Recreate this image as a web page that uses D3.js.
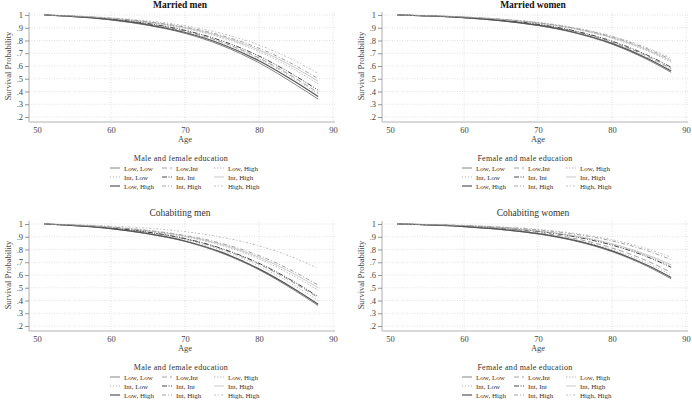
<!DOCTYPE html>
<html>
<head>
<meta charset="utf-8">
<script src="https://cdn.jsdelivr.net/npm/d3@7"></script>
<style>
  body { margin: 0; background: #fff; }
  svg { font-family: "Liberation Serif", "DejaVu Serif", serif; }
</style>
</head>
<body>
<svg id="chart" width="692" height="400"></svg>
<script>
const ages = [51, 60, 65, 70, 75, 80, 85, 88];

const seriesNames = ["Low, Low", "Low,Int", "Low, High", "Int, Low", "Int, Int", "Int, High", "Low, High", "Int, High", "High, High"];

const xTicks = [50, 60, 70, 80, 90];
const yTicks = [1, .9, .8, .7, .6, .5, .4, .3, .2];
const yTickLabels = ["1", ".9", ".8", ".7", ".6", ".5", ".4", ".3", ".2"];

const panelTitles = ["Married men", "Married women", "Cohabiting men", "Cohabiting women"];
const legendTitles = ["Male and female education", "Female and male education", "Male and female education", "Female and male education"];

// survival probability per series, one row per legend entry
const marriedMen = [
  [1, .961, .919, .856, .760, .625, .452, .34],
  [1, .966, .929, .873, .787, .663, .501, .39],
  [1, .972, .941, .894, .821, .713, .565, .46],
  [1, .965, .927, .870, .782, .656, .491, .38],
  [1, .968, .933, .880, .797, .678, .519, .41],
  [1, .973, .944, .900, .830, .726, .583, .48],
  [1, .963, .923, .863, .771, .641, .472, .36],
  [1, .975, .947, .905, .839, .739, .601, .50],
  [1, .977, .953, .915, .855, .764, .636, .54]
];
const marriedWomen = [
  [1, .978, .954, .917, .859, .771, .644, .55],
  [1, .980, .958, .925, .871, .789, .670, .58],
  [1, .983, .965, .936, .889, .818, .712, .63],
  [1, .979, .957, .922, .867, .783, .662, .57],
  [1, .981, .960, .927, .875, .795, .679, .59],
  [1, .984, .966, .938, .893, .823, .720, .64],
  [1, .979, .956, .920, .863, .777, .653, .56],
  [1, .984, .967, .940, .896, .829, .729, .65],
  [1, .985, .968, .942, .900, .834, .737, .66]
];
const cohabMen = [
  [1, .963, .923, .863, .771, .641, .472, .36],
  [1, .968, .935, .883, .802, .685, .529, .42],
  [1, .973, .944, .900, .830, .726, .583, .48],
  [1, .967, .931, .876, .792, .671, .510, .40],
  [1, .969, .936, .886, .807, .692, .538, .43],
  [1, .975, .947, .905, .839, .739, .601, .50],
  [1, .964, .925, .867, .777, .648, .482, .37],
  [1, .976, .950, .910, .847, .752, .618, .52],
  [1, .984, .967, .940, .896, .829, .729, .65]
];
const cohabWomen = [
  [1, .979, .957, .922, .867, .783, .662, .57],
  [1, .982, .963, .934, .886, .812, .704, .62],
  [1, .985, .969, .944, .903, .840, .745, .67],
  [1, .981, .961, .929, .878, .800, .687, .60],
  [1, .985, .968, .942, .900, .834, .737, .66],
  [1, .986, .970, .946, .907, .845, .753, .68],
  [1, .980, .958, .925, .871, .789, .670, .58],
  [1, .988, .975, .954, .920, .867, .786, .72],
  [1, .989, .977, .958, .926, .877, .801, .74]
];
const panelData = [marriedMen, marriedWomen, cohabMen, cohabWomen];

// look of each series (grey scale, Stata style patterns)
const lineStyles = [
  { color: "#777", width: 0.9, dash: null },
  { color: "#8a8a8a", width: 0.8, dash: "5,3" },
  { color: "#aaa", width: 0.8, dash: "1.5,1.5" },
  { color: "#999", width: 0.8, dash: "1,2" },
  { color: "#333", width: 0.9, dash: "5,1.5,1,1.5,1,1.5" },
  { color: "#bbb", width: 0.8, dash: null },
  { color: "#555", width: 1.2, dash: null },
  { color: "#8a8a8a", width: 0.8, dash: "4,2,1,2" },
  { color: "#aaa", width: 0.8, dash: "2,2,1,2" }
];

const panelPos = [[0, 0], [353, 0], [0, 209], [353, 209]];
const legendX = [110, 462, 110, 462];
const legendTitleX = [181, 525, 181, 525];

const svg = d3.select("#chart");

const x = d3.scaleLinear().domain([50, 90]).range([37, 333]);
const y = d3.scaleLinear().domain([0.2, 1]).range([117, 15]);

const line = d3.line()
  .x((d, i) => x(ages[i]))
  .y(d => y(d))
  .curve(d3.curveMonotoneX);

panelData.forEach((data, p) => {
  const g = svg.append("g").attr("transform", `translate(${panelPos[p][0]},${panelPos[p][1]})`);

  // gridlines
  g.selectAll(".hgrid").data(yTicks).join("line")
    .attr("x1", 29).attr("x2", 335)
    .attr("y1", d => y(d)).attr("y2", d => y(d))
    .attr("stroke", "#d4d4d4").attr("stroke-width", 0.7).attr("stroke-dasharray", "1,1.5");
  g.selectAll(".vgrid").data(xTicks.slice(1)).join("line")
    .attr("x1", d => x(d)).attr("x2", d => x(d))
    .attr("y1", 12).attr("y2", 122)
    .attr("stroke", "#d4d4d4").attr("stroke-width", 0.7).attr("stroke-dasharray", "1,1.5");

  // y axis
  const yAxis = g.append("g").attr("transform", "translate(29,0)")
    .call(d3.axisLeft(y).tickValues(yTicks).tickSize(4).tickPadding(2)
      .tickFormat((d, i) => yTickLabels[i]));
  yAxis.select(".domain").remove();
  yAxis.selectAll("line").attr("stroke", "#666").attr("stroke-width", 0.7);
  yAxis.selectAll("text").attr("fill", "#444").attr("font-size", 8.5)
    .attr("font-family", "Liberation Serif, serif");
  g.append("line").attr("x1", 29).attr("x2", 29).attr("y1", 12).attr("y2", 122)
    .attr("stroke", "#999").attr("stroke-width", 0.8);

  // x axis
  const xAxis = g.append("g").attr("transform", "translate(0,122)")
    .call(d3.axisBottom(x).tickValues(xTicks).tickSize(0).tickPadding(5));
  xAxis.select(".domain").remove();
  xAxis.selectAll("text").attr("fill", "#444").attr("font-size", 8.5)
    .attr("font-family", "Liberation Serif, serif");
  g.append("line").attr("x1", 29).attr("x2", 335).attr("y1", 122).attr("y2", 122)
    .attr("stroke", "#ccc").attr("stroke-width", 1.6);

  // axis titles
  g.append("text").attr("x", 185).attr("y", 142).attr("text-anchor", "middle")
    .attr("font-size", 8.5).attr("fill", "#444").text("Age");
  g.append("text").attr("transform", "translate(11,66) rotate(-90)")
    .attr("text-anchor", "middle").attr("font-size", 8.5).attr("fill", "#444")
    .text("Survival Probability");

  // panel title
  g.append("text").attr("x", 180).attr("y", p < 2 ? 8 : 7).attr("text-anchor", "middle")
    .attr("font-size", 9.5).attr("font-weight", p < 2 ? "bold" : "normal")
    .attr("fill", p < 2 ? "#111" : "#333").text(panelTitles[p]);

  // curves
  g.selectAll(".curve").data(data).join("path")
    .attr("d", line)
    .attr("fill", "none")
    .attr("stroke", (d, i) => lineStyles[i].color)
    .attr("stroke-width", (d, i) => lineStyles[i].width)
    .attr("stroke-dasharray", (d, i) => lineStyles[i].dash);

  // legend
  const lg = g.append("g");
  lg.append("text").attr("x", legendTitleX[p] - panelPos[p][0]).attr("y", 161)
    .attr("text-anchor", "middle").attr("font-size", 8).attr("fill", "#333")
    .attr("letter-spacing", 0.3).text(legendTitles[p]);
  const items = lg.selectAll(".item").data(seriesNames).join("g")
    .attr("transform", (d, i) => `translate(${legendX[p] - panelPos[p][0] + (i % 3) * 52},${168 + Math.floor(i / 3) * 9})`);
  items.append("line").attr("x1", 0).attr("x2", 10).attr("y1", 0).attr("y2", 0)
    .attr("stroke", (d, i) => lineStyles[i].color)
    .attr("stroke-width", (d, i) => lineStyles[i].width)
    .attr("stroke-dasharray", (d, i) => lineStyles[i].dash);
  items.append("text").attr("x", 14).attr("y", 2.5).attr("font-size", 7)
    .attr("fill", "#333").text(d => d);
});
</script>
</body>
</html>
